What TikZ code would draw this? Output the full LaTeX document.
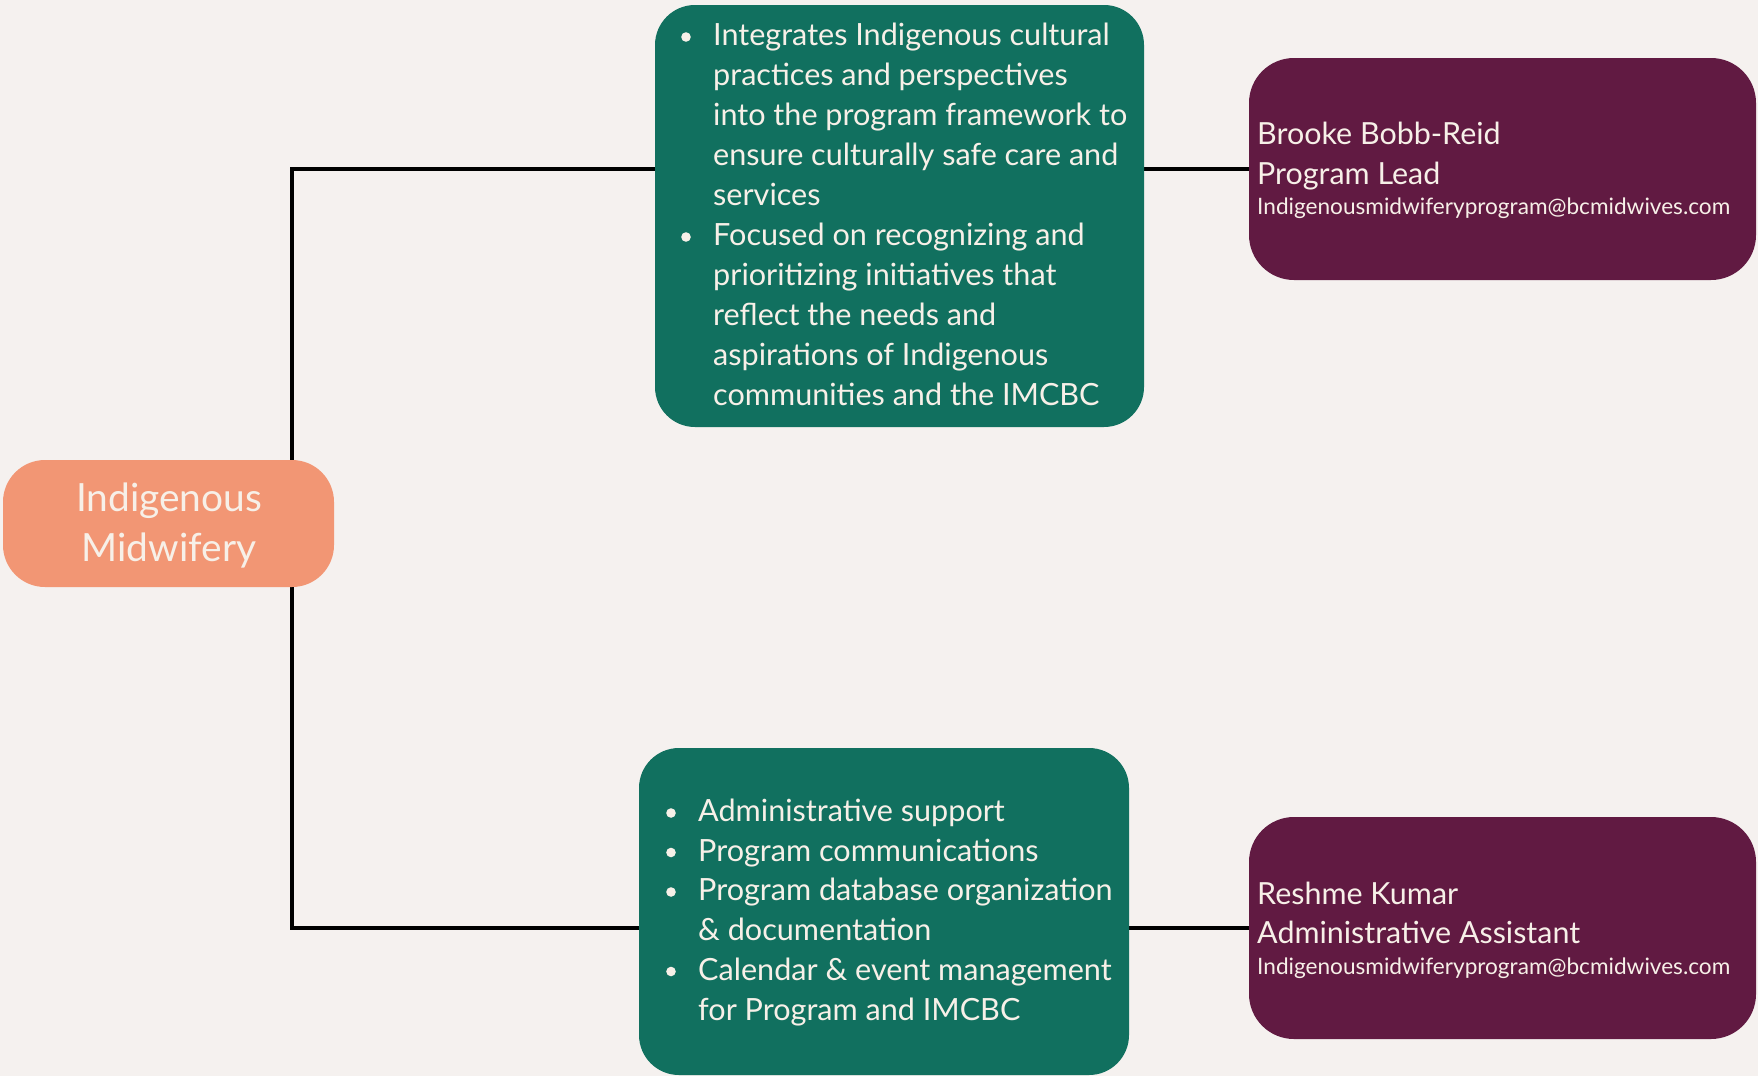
\documentclass[tikz,border=0pt]{standalone}
\usepackage{fontspec}
\setmainfont{Lato}
\usetikzlibrary{backgrounds}
\definecolor{bgc}{HTML}{F5F1EF}
\definecolor{salmonfill}{HTML}{F29674}
\definecolor{boxgreen}{HTML}{11705F}
\definecolor{boxplum}{HTML}{611A42}
\definecolor{cream}{HTML}{F7F0E8}
\newlength\mylen
\newcommand\fitsize[3]{\settowidth\mylen{\fontsize{10}{12}\selectfont #3}\pgfmathsetmacro#1{10*#2/\mylen}}
\newcommand\bodyfont{\fontsize{\bodysize}{40}\selectfont}
\newcommand\titlefont{\fontsize{\titlesize}{50}\selectfont}
\newcommand\namefont{\fontsize{\namesize}{40}\selectfont}
\newcommand\mailfont{\fontsize{\mailsize}{30}\selectfont}
\begin{document}%
\fitsize\bodysize{414}{into the program framework to}%
\fitsize\titlesize{186}{Indigenous}%
\fitsize\namesize{323}{Administrative Assistant}%
\fitsize\mailsize{473}{Indigenousmidwiferyprogram@bcmidwives.com}%
\begin{tikzpicture}[x=1pt,y=-1pt,
  box/.style={rectangle, inner sep=0pt, rounded corners=42pt},
  txt/.style={text=cream, inner sep=0pt, anchor=base west},
  ttl/.style={text=cream, inner sep=0pt, anchor=base},
  conn/.style={line width=4pt, black},
  dotfill/.style={fill=cream}]
\begin{pgfonlayer}{background}
\fill[bgc] (0,0) rectangle (1758,1076);
\end{pgfonlayer}
\useasboundingbox (0,0) rectangle (1758,1076);
% boxes
\node[box, fill=salmonfill, minimum width=331pt, minimum height=127pt] (root) at (168.5,523.5) {};
\node[box, fill=boxgreen, minimum width=489pt, minimum height=422pt, rounded corners=40pt] (g1) at (899.5,216) {};
\node[box, fill=boxgreen, minimum width=490pt, minimum height=327pt, rounded corners=40pt] (g2) at (884,911.5) {};
\node[box, fill=boxplum, minimum width=507pt, minimum height=222pt, rounded corners=45pt] (p1) at (1502.5,169) {};
\node[box, fill=boxplum, minimum width=507pt, minimum height=222pt, rounded corners=45pt] (p2) at (1502.5,928) {};
% connectors
\coordinate (vx) at (292,0);
\begin{pgfonlayer}{background}
\draw[conn] (p1.west) -- (p1.west -| g1.east);
\draw[conn] (g1.west |- p1.west) -| (vx |- root.north);
\draw[conn] (p2.west) -- (p2.west -| g2.east);
\draw[conn] (g2.west |- p2.west) -| (vx |- root.south);
\end{pgfonlayer}
% title
\node[ttl, font=\titlefont] (r1) at (169,511) {Indigenous};
\node[ttl, font=\titlefont] (r2) at (169,561) {Midwifery};
% top green
\foreach \t [count=\i] in {Integrates Indigenous cultural, practices and perspectives, into the program framework to, ensure culturally safe care and, services, Focused on recognizing and, prioritizing initiatives that, reflect the needs and, aspirations of Indigenous, communities and the IMCBC}
  \node[txt, font=\bodyfont] (a\i) at (713,5+40*\i) {\t};
\fill[dotfill] (686,37) circle (4.8);
\fill[dotfill] (686,237) circle (4.8);
% bottom green
\foreach \t [count=\i] in {Administrative support, Program communications, Program database organization, \& documentation, Calendar \& event management, for Program and IMCBC}
  \node[txt, font=\bodyfont] (b\i) at (698,781.8+39.7*\i) {\t};
\fill[dotfill] (671,813) circle (4.8);
\fill[dotfill] (671,852.5) circle (4.8);
\fill[dotfill] (671,892) circle (4.8);
\fill[dotfill] (671,971.5) circle (4.8);
% purple boxes
\node[txt, font=\namefont] (n1) at (1257,144) {Brooke Bobb-Reid};
\node[txt, font=\namefont] (n2) at (1257,184) {Program Lead};
\node[txt, font=\mailfont] (n3) at (1257,214) {Indigenousmidwiferyprogram@bcmidwives.com};
\node[txt, font=\namefont] (m1) at (1257,904) {Reshme Kumar};
\node[txt, font=\namefont] (m2) at (1257,943) {Administrative Assistant};
\node[txt, font=\mailfont] (m3) at (1257,974) {Indigenousmidwiferyprogram@bcmidwives.com};
\end{tikzpicture}
\end{document}
